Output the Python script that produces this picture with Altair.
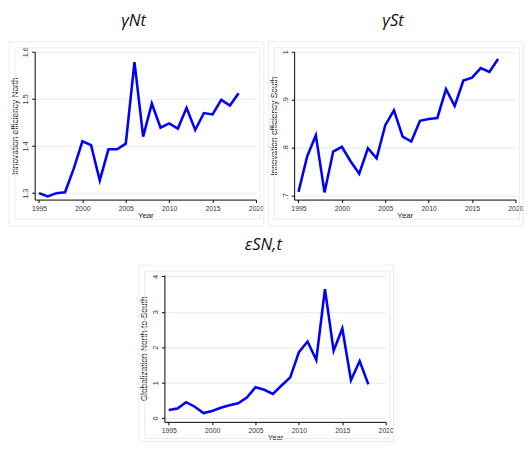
import altair as alt
import pandas as pd

years = list(range(1995, 2019))
north = [1.300, 1.293, 1.300, 1.302, 1.352, 1.410, 1.402, 1.327, 1.393, 1.393, 1.405, 1.578,
         1.420, 1.490, 1.439, 1.448, 1.437, 1.481, 1.434, 1.470, 1.467, 1.498, 1.486, 1.512]
south = [0.708, 0.782, 0.826, 0.707, 0.792, 0.802, 0.772, 0.746, 0.799, 0.778, 0.847, 0.878,
         0.823, 0.813, 0.856, 0.860, 0.862, 0.922, 0.887, 0.940, 0.946, 0.966, 0.958, 0.985]
glob = [0.23, 0.27, 0.45, 0.32, 0.14, 0.20, 0.29, 0.36, 0.42, 0.58, 0.87, 0.80,
        0.68, 0.92, 1.15, 1.86, 2.16, 1.64, 3.64, 1.90, 2.53, 1.07, 1.61, 0.95]

x_ticks = [1995, 2000, 2005, 2010, 2015, 2020]
north_ticks = [1.3, 1.4, 1.5, 1.6]
south_ticks = [0.7, 0.8, 0.9, 1.0]
glob_ticks = [0, 1, 2, 3, 4]

titles = ["γNt", "γSt", "εSN,t"]
ytitles = ["Innovation efficiency North", "Innovation efficiency South", "Globalization North-to-South"]

FRAME = "#e6eef0"
one = pd.DataFrame({"k": [0]})


def panel(vals, ydom, yticks, lab_expr, ytitle, title, w, h, ob, ib):
    df = pd.DataFrame({"Year": years, "v": vals})
    outer = alt.Chart(one).mark_rect(fillOpacity=0, stroke=FRAME, strokeWidth=1).encode(
        x=alt.value(-26), x2=alt.value(w + 8), y=alt.value(-10), y2=alt.value(h + ob))
    inner = alt.Chart(one).mark_rect(fillOpacity=0, stroke=FRAME, strokeWidth=1).encode(
        x=alt.value(-20), x2=alt.value(w + 4), y=alt.value(-4), y2=alt.value(h + ib))
    ttl = alt.Chart(one).mark_text(text=title, font="Open Sans", fontStyle="italic",
                                   fontSize=17, color="#111111", baseline="alphabetic",
                                   align="center").encode(
        x=alt.value(w / 2 - 12), y=alt.value(-26))
    line = alt.Chart(df).mark_line(color="#0000ff", strokeWidth=2.6).encode(
        x=alt.X("Year:Q", scale=alt.Scale(domain=[1994.5, 2020], nice=False, zero=False),
                axis=alt.Axis(values=x_ticks, format="d", title="Year", grid=False,
                              labelFlush=False, labelOverlap=False, tickSize=3,
                              labelFontSize=7, titleFontSize=8, labelPadding=2,
                              titlePadding=0)),
        y=alt.Y("v:Q", scale=alt.Scale(domain=ydom, nice=False, zero=False),
                axis=alt.Axis(values=yticks, labelExpr=lab_expr, title=ytitle, grid=True,
                              labelAngle=-90, labelAlign="center", labelBaseline="bottom",
                              labelOverlap=False, labelFlush=False, tickSize=3,
                              labelFontSize=7.5, titleFontSize=8.5, labelPadding=2,
                              titlePadding=3)),
    )
    return alt.layer(outer, inner, line, ttl).properties(width=w, height=h)


p1 = panel(north, [1.2864, 1.6], north_ticks, "format(datum.value, '.1f')",
           ytitles[0], titles[0], 226, 151, 27, 20)
p2 = panel(south, [0.692, 1.0], south_ticks,
           "datum.value >= 1 ? '1' : replace(format(datum.value, '.1f'), '0.', '.')",
           ytitles[1], titles[1], 226, 151, 27, 20)
p3 = panel(glob, [-0.107, 4.04], glob_ticks, "format(datum.value, 'd')",
           ytitles[2], titles[2], 226, 150, 20, 17)

chart = alt.vconcat(
    alt.hconcat(p1, p2, spacing=3),
    p3,
    spacing=9,
    center=True,
).properties(padding=0).configure_view(strokeWidth=0).configure_axis(
    domainColor="#000000", tickColor="#000000", gridColor="#e3ebee", gridWidth=1,
    labelFont="Liberation Sans", titleFont="Liberation Sans",
    labelColor="#333333", titleColor="#222222", titleFontWeight="normal",
    domainWidth=1, tickWidth=1,
)

chart.save("out.html", embed_options={"renderer": "svg", "actions": False})
